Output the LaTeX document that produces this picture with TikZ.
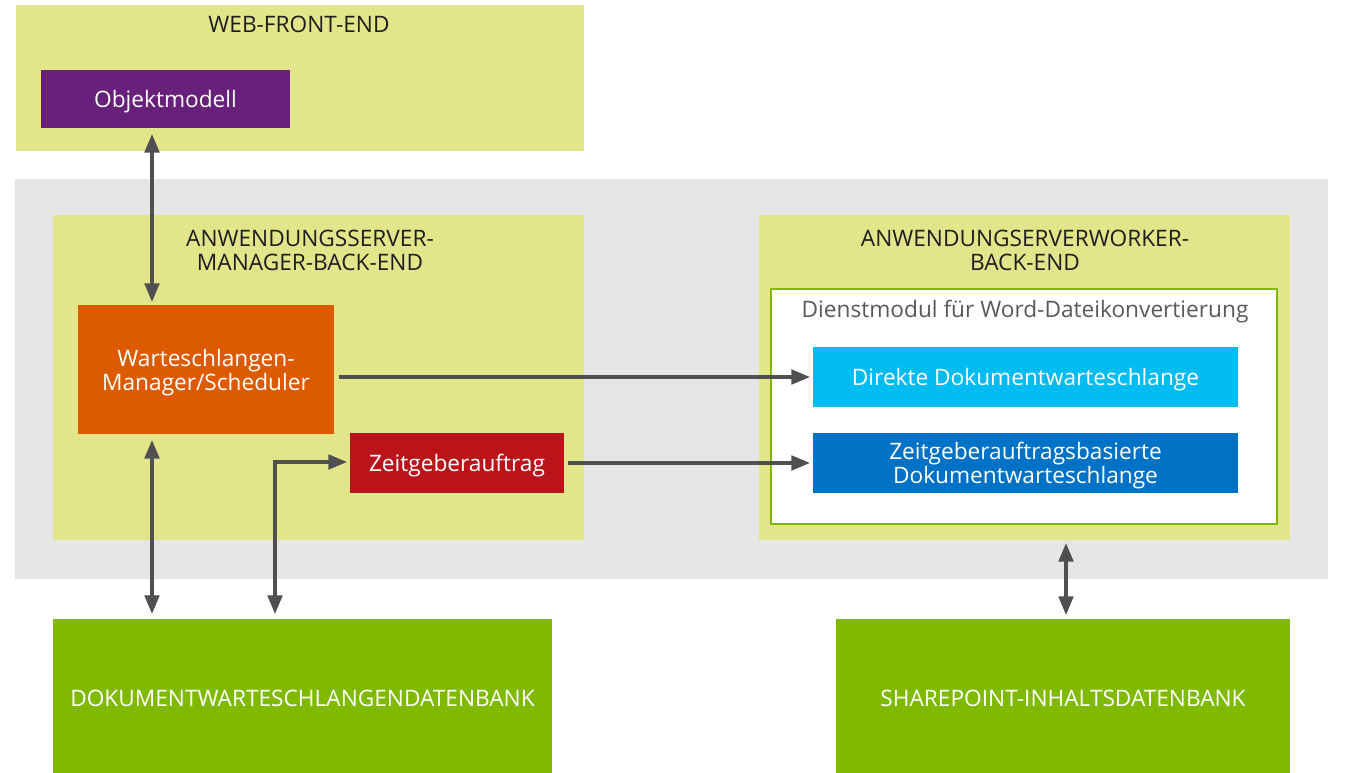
\documentclass[tikz,border=0pt]{standalone}
\usepackage{fontspec}
\setmainfont{Open Sans}
\usetikzlibrary{arrows.meta,fit}
\definecolor{lime}{HTML}{E2E589}
\definecolor{bggray}{HTML}{E6E6E6}
\definecolor{cpurple}{HTML}{68217A}
\definecolor{corange}{HTML}{DC5A00}
\definecolor{cred}{HTML}{BA141A}
\definecolor{ccyan}{HTML}{00BCF2}
\definecolor{cblue}{HTML}{0072C6}
\definecolor{cgreen}{HTML}{7FBA00}
\definecolor{carrow}{HTML}{505050}
\definecolor{ctext}{HTML}{1E1E1E}
\definecolor{cgtext}{HTML}{595959}
\tikzset{
  area/.style={inner sep=0pt, outer sep=0pt, fill=#1},
  blk/.style={inner sep=0pt, outer sep=0pt, fill=#1, text=white, align=center,
    font=\fontsize{17}{18}\selectfont},
  lbl/.style={inner sep=0pt, text=white, align=center, yshift=-2pt,
    font=\fontsize{17}{18}\selectfont},
  head/.style={inner sep=0pt, text=ctext, align=center, font=\fontsize{17}{18}\selectfont},
  conn/.style={draw=carrow, line width=2.4pt, -{Triangle[length=14pt,width=11pt]}},
  conn2/.style={draw=carrow, line width=2.4pt, {Triangle[length=14pt,width=11pt]}-{Triangle[length=14pt,width=11pt]}},
}
\begin{document}
\begin{tikzpicture}[x=0.75pt,y=-0.75pt]
\useasboundingbox (0,0) rectangle (1348,773);
% background areas
\node[area=lime, fit={(16,5)(584,151)}] (wfe) {};
\node[area=bggray, fit={(15,179)(1328,579)}] (app) {};
\node[area=lime, fit={(53,215)(584,540)}] (mgr) {};
\node[area=lime, fit={(759,215)(1290,540)}] (wrk) {};
\node[inner sep=0pt, outer sep=0pt, fill=white, draw=cgreen, line width=2.2pt, fit={(771,289)(1277,524)}] (svc) {};
% headings
\node[head] (h1) at (299,24) {WEB-FRONT-END};
\node[head] (h2) at (310,250) {ANWENDUNGSSERVER-\\MANAGER-BACK-END};
\node[head] (h3) at (1025,250) {ANWENDUNGSERVERWORKER-\\BACK-END};
\node[head, text=cgtext] (h4) at (1025,312) {Dienstmodul für Word-Dateikonvertierung};
% blocks
\node[blk=cpurple, fit={(41,70)(290,128)}] (obj) {};
\node[lbl] (objt) at (obj.center) {Objektmodell};
\node[blk=corange, fit={(78,305)(334,434)}] (qm) {};
\node[lbl] (qmt) at (qm.center) {Warteschlangen-\\Manager/Scheduler};
\node[blk=cred, fit={(350,433)(564,493)}] (tj) {};
\node[lbl] (tjt) at (tj.center) {Zeitgeberauftrag};
\node[blk=ccyan, fit={(813,347)(1238,407)}] (dq) {};
\node[lbl] (dqt) at (dq.center) {Direkte Dokumentwarteschlange};
\node[blk=cblue, fit={(813,433)(1238,493)}] (tq) {};
\node[lbl] (tqt) at (tq.center) {Zeitgeberauftragsbasierte\\Dokumentwarteschlange};
\node[blk=cgreen, fit={(53,619)(552,773)}] (qdb) {};
\node[lbl] (qdbt) at (qdb.center) {DOKUMENTWARTESCHLANGENDATENBANK};
\node[blk=cgreen, fit={(836,619)(1290,773)}] (cdb) {};
\node[lbl] (cdbt) at (cdb.center) {SHAREPOINT-INHALTSDATENBANK};
% connectors
\coordinate (a1) at (152,134);
\coordinate (a2) at (152,302);
\draw[conn2] (a1) -- (a2);
\coordinate (b1) at (152,440);
\coordinate (b2) at (152,614);
\draw[conn2] (b1) -- (b2);
\coordinate (c1) at (275,614);
\coordinate (c2) at (347,462);
\draw[conn2] (c1) |- (c2);
\coordinate (d1) at (339,377);
\coordinate (d2) at (810,377);
\draw[conn] (d1) -- (d2);
\coordinate (e1) at (568,463);
\coordinate (e2) at (810,463);
\draw[conn] (e1) -- (e2);
\coordinate (f1) at (1066,543);
\coordinate (f2) at (1066,615);
\draw[conn2] (f1) -- (f2);
\end{tikzpicture}
\end{document}
